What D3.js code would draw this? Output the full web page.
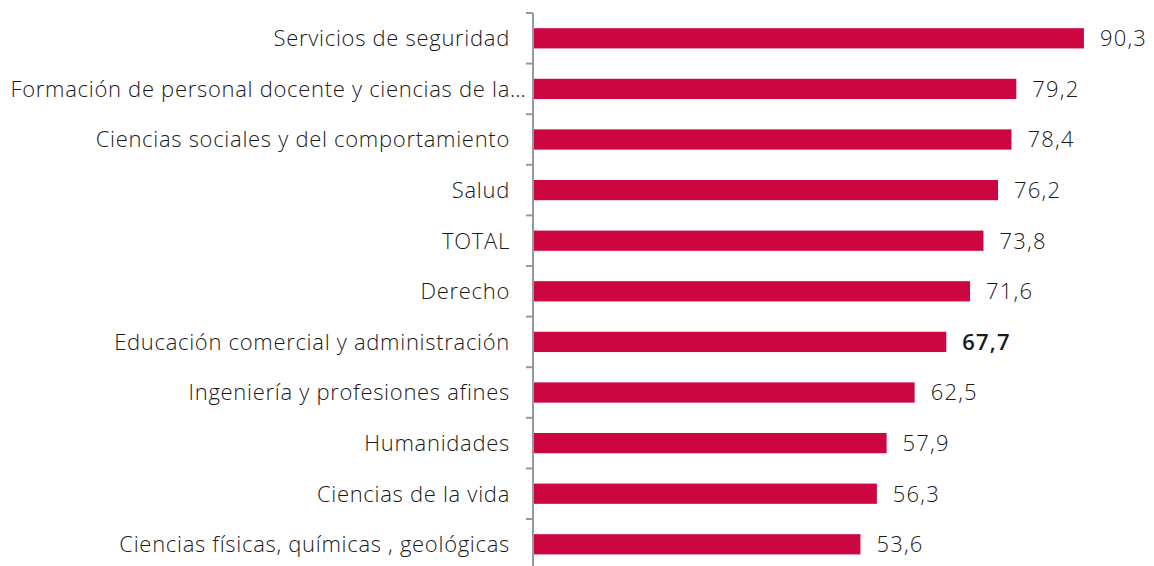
<!DOCTYPE html>
<html>
<head>
<meta charset="utf-8">
<script src="https://cdnjs.cloudflare.com/ajax/libs/d3/7.8.5/d3.min.js"></script>
<style>
  body { margin: 0; background: #fff; }
  .canvas { width: 1154px; height: 566px; }
  text { font-family: "Open Sans", sans-serif; font-weight: 300; fill: #1a1a1a; }
</style>
</head>
<body>
<div class="canvas" id="canvas"></div>
<script>
var categories = ['Servicios de seguridad',
    'Formación de personal docente y ciencias de la…',
    'Ciencias sociales y del comportamiento',
    'Salud',
    'TOTAL',
    'Derecho',
    'Educación comercial y administración',
    'Ingeniería y profesiones afines',
    'Humanidades',
    'Ciencias de la vida',
    'Ciencias físicas, químicas , geológicas'];
var values = [90.3, 79.2, 78.4, 76.2, 73.8, 71.6, 67.7, 62.5, 57.9, 56.3, 53.6];
var valueLabels = ['90,3', '79,2', '78,4', '76,2', '73,8', '71,6', '67,7', '62,5', '57,9', '56,3', '53,6'];
var highlight = 'Educación comercial y administración';

var W = 1154, H = 566;
var data = categories.map(function(c, i){
    return {cat: c, val: values[i], label: valueLabels[i]};
});

var svg = d3.select('.canvas')
    .append('svg')
    .attr('width', W)
    .attr('height', H);

var x = d3.scaleLinear().domain([0, 100]).range([534, 1143]);
var y = d3.scaleBand().domain(categories).range([13, 569.6]).padding(0);
var barH = y.bandwidth() * 0.4;

//bars
svg.selectAll('.bar')
    .data(data)
    .enter()
    .append('rect').attr('class', 'bar')
    .attr('x', x(0))
    .attr('y', function(d){ return y(d.cat) + (y.bandwidth() - barH) / 2; })
    .attr('width', function(d){ return x(d.val) - x(0); })
    .attr('height', barH)
    .style('fill', '#cc0641');

//value labels
svg.selectAll('.val')
    .data(data)
    .enter()
    .append('text').attr('class', 'val')
    .attr('x', function(d){ return x(d.val) + 16; })
    .attr('y', function(d){ return y(d.cat) + y.bandwidth() / 2; })
    .attr('dy', '0.36em')
    .style('font-size', '22px')
    .style('letter-spacing', '1.2px')
    .style('font-weight', function(d){ return d.cat == highlight ? 600 : 300; })
    .text(function(d){ return d.label; });

//category axis
var axis = svg.append('g').attr('class', 'axis')
    .attr('transform', 'translate(' + (x(0) - 1) + ',0)');
axis.append('line')
    .attr('y1', y.range()[0]).attr('y2', y.range()[1])
    .style('stroke', '#999').style('stroke-width', 2);
axis.selectAll('.tick')
    .data(categories)
    .enter()
    .append('line').attr('class', 'tick')
    .attr('x1', -7).attr('x2', 0)
    .attr('y1', function(d){ return y(d); })
    .attr('y2', function(d){ return y(d); })
    .style('stroke', '#999').style('stroke-width', 2);

//labels: truncated ones let the ellipsis hang past the anchor
var cats = axis.selectAll('.cat')
    .data(categories)
    .enter()
    .append('g').attr('class', 'cat')
    .attr('transform', function(d){ return 'translate(-23,' + (y(d) + y.bandwidth() / 2) + ')'; });
cats.append('text')
    .attr('dy', '0.36em')
    .attr('text-anchor', 'end')
    .style('font-size', '22px')
    .style('letter-spacing', '0.7px')
    .text(function(d){ return d.replace('…', ''); });
cats.filter(function(d){ return d.indexOf('…') > -1; })
    .append('text')
    .attr('dy', '0.36em')
    .style('font-size', '22px')
    .style('letter-spacing', '0.7px')
    .text('…');
</script>
</body>
</html>
